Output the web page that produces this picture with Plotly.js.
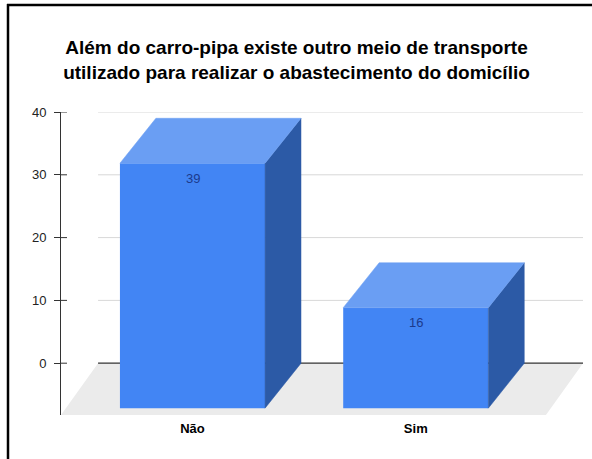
<!DOCTYPE html>
<html>
<head>
<meta charset="utf-8">
<script src="https://cdn.plot.ly/plotly-3.0.1.min.js"></script>
<style>html,body{margin:0;padding:0;background:#fff;}#chart{width:592px;height:459px;}</style>
</head>
<body>
<div id="chart"></div>
<script>
// ---- data ----
const categories = ['Não', 'Sim'];
const values = [39, 16];
const valueLabels = ['39', '16'];
const yTickValues = [0, 10, 20, 30, 40];
const titleText = 'Além do carro-pipa existe outro meio de transporte<br>utilizado para realizar o abastecimento do domicílio';

// ---- style / geometry ----
const FONT = '"Liberation Sans", Arial, sans-serif';
const W = 592, H = 459;
const M = {l: 61, r: 9, t: 112, b: 44};
const xRange = [-0.589, 1.749];
const yRange = [-8.25, 40];
const barWidth = 0.65;
const depthX = 0.161, depthY = 7.16;     // bar depth in axis units
const floorDX = 0.166, floorDY = 8.25;   // floor depth in axis units
const cFront = '#4285f4', cTop = '#6a9ef3', cSide = '#2c5aa6';

const xs = categories.map((c, i) => i);
const plotW = W - M.l - M.r, plotH = H - M.t - M.b;
const pxToPaperX = px => (px - M.l) / plotW;
const pxToPaperY = py => (H - M.b - py) / plotH;

const traces = [];
// front faces
traces.push({
  type: 'bar', x: xs, y: values, base: values.map(() => -depthY),
  width: barWidth, marker: {color: cFront, line: {width: 0}},
  hoverinfo: 'skip', showlegend: false
});
// side and top faces
values.forEach((v, i) => {
  const xl = xs[i] - barWidth / 2, xr = xs[i] + barWidth / 2;
  traces.push({
    type: 'scatter', mode: 'lines', fill: 'toself', fillcolor: cSide,
    x: [xr, xr + depthX, xr + depthX, xr, xr],
    y: [-depthY, 0, v, v - depthY, -depthY],
    line: {width: 0.5, color: cSide}, hoverinfo: 'skip', showlegend: false
  });
  traces.push({
    type: 'scatter', mode: 'lines', fill: 'toself', fillcolor: cTop,
    x: [xl, xr, xr + depthX, xl + depthX, xl],
    y: [v - depthY, v - depthY, v, v, v - depthY],
    line: {width: 0.5, color: cTop}, hoverinfo: 'skip', showlegend: false
  });
});

const shapes = [];
// floor
const fx0 = xRange[0] + floorDX, fx1 = xRange[1];
shapes.push({
  type: 'path', layer: 'below', xref: 'x', yref: 'y',
  path: `M ${fx0},0 L ${fx1},0 L ${fx1 - floorDX},${-floorDY} L ${xRange[0]},${-floorDY} Z`,
  fillcolor: '#ebebeb', line: {width: 0}
});
// back gridlines
yTickValues.forEach(t => {
  shapes.push({
    type: 'line', layer: 'below', xref: 'x', yref: 'y',
    x0: fx0, x1: fx1, y0: t, y1: t,
    line: {color: t === 0 ? '#333333' : '#d8d8d8', width: t === 0 ? 1.3 : 1}
  });
  // right half of crossing tick
  shapes.push({
    type: 'line', xref: 'paper', yref: 'y',
    x0: 0, x1: 6 / plotW, y0: t, y1: t,
    line: {color: '#333333', width: 1}
  });
});
// frame (top and left edges)
shapes.push({type: 'line', xref: 'paper', yref: 'paper',
  x0: pxToPaperX(7), x1: pxToPaperX(W + 2), y0: pxToPaperY(5), y1: pxToPaperY(5),
  line: {color: '#000', width: 2.5}});
shapes.push({type: 'line', xref: 'paper', yref: 'paper',
  x0: pxToPaperX(8), x1: pxToPaperX(8), y0: pxToPaperY(4), y1: pxToPaperY(H + 2),
  line: {color: '#000', width: 2.5}});

const annotations = values.map((v, i) => ({
  x: xs[i], y: v - depthY, xref: 'x', yref: 'y', text: valueLabels[i],
  showarrow: false, yshift: -15,
  font: {family: FONT, size: 13, color: '#1c3a8c'}
}));

const layout = {
  width: W, height: H,
  margin: M,
  paper_bgcolor: '#ffffff', plot_bgcolor: 'rgba(0,0,0,0)',
  showlegend: false,
  title: {
    text: titleText, x: 296.5 / W, xref: 'container', xanchor: 'center',
    y: 1 - 54 / H, yref: 'container', yanchor: 'top',
    font: {family: FONT, size: 19, color: '#000', weight: 'bold'}
  },
  xaxis: {
    range: xRange, fixedrange: true,
    tickvals: xs, ticktext: categories,
    showgrid: false, zeroline: false, showline: false, ticks: '',
    ticklabelstandoff: 4,
    tickfont: {family: FONT, size: 13, color: '#000', weight: 'bold'}
  },
  yaxis: {
    range: yRange, fixedrange: true,
    tickvals: yTickValues, ticktext: yTickValues.map(String),
    showgrid: false, zeroline: false,
    showline: true, linecolor: '#333333', linewidth: 1,
    ticks: 'outside', ticklen: 6, tickcolor: '#333333', tickwidth: 1,
    ticklabelstandoff: 5,
    tickfont: {family: FONT, size: 13, color: '#222222'}
  },
  shapes: shapes,
  annotations: annotations
};

Plotly.newPlot('chart', traces, layout, {displayModeBar: false, staticPlot: true});
</script>
</body>
</html>
